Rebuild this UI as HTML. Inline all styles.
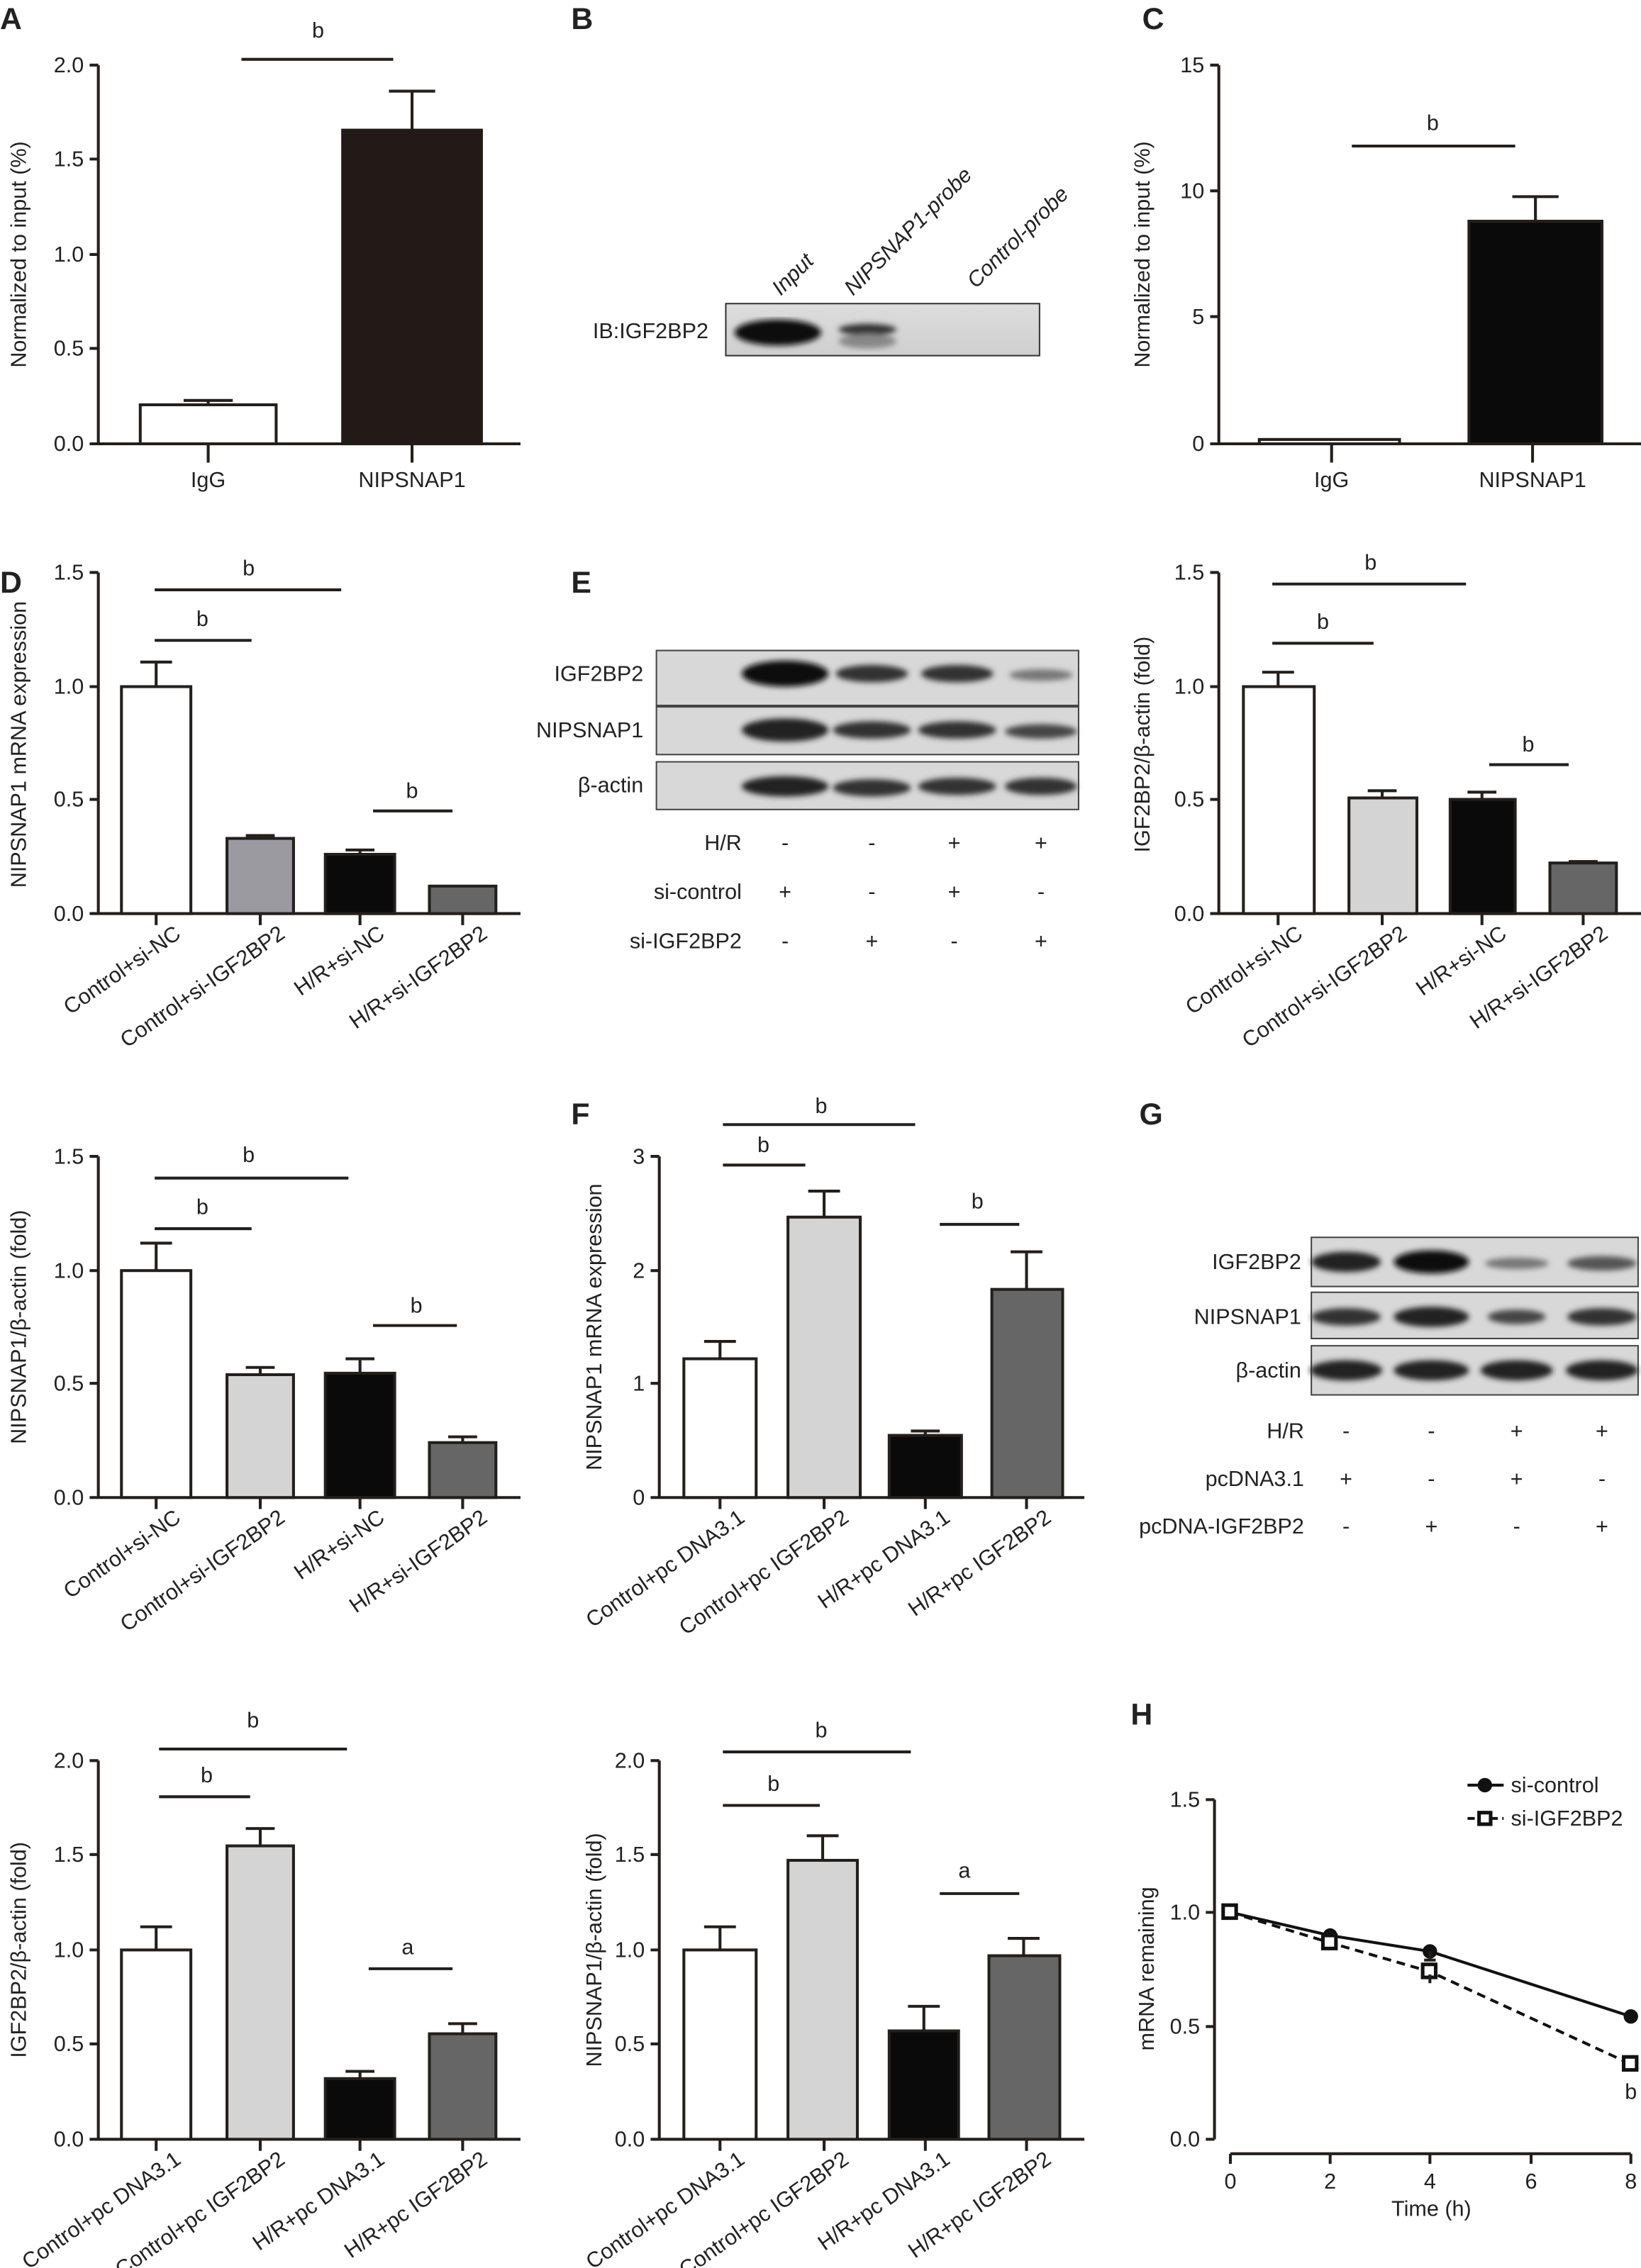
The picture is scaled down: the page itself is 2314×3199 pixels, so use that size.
<!DOCTYPE html>
<html><head><meta charset="utf-8"><style>
html,body{margin:0;padding:0;background:#fff}
svg{display:block}
text{font-family:"Liberation Sans Narrow","Liberation Sans",sans-serif;fill:#222}
.t{font-size:15px}
.yl{font-size:15px}
.L{font-family:"Liberation Sans",sans-serif;font-weight:bold;font-size:21px}
.ax{stroke:#231f1c;stroke-width:2;fill:none}
.w{fill:#fff;stroke:#231f1c;stroke-width:2}
.lg{fill:#d4d4d4;stroke:#231f1c;stroke-width:2}
.bk{fill:#0a0a0a;stroke:#231f1c;stroke-width:2}
.dg{fill:#666;stroke:#231f1c;stroke-width:2}
.mg{fill:#9a9aa0;stroke:#231f1c;stroke-width:2}
.br{fill:#231a17;stroke:#231a17;stroke-width:2}
</style></head><body>
<svg width="2314" height="3199" viewBox="0 0 1135 1569" xmlns="http://www.w3.org/2000/svg">
<defs>
<linearGradient id="bg" x1="0" y1="0" x2="0" y2="1"><stop offset="0" stop-color="#ddd"/><stop offset="1" stop-color="#cfcfcf"/></linearGradient>
<filter id="bl"><feGaussianBlur stdDeviation="2"/></filter>
</defs>

<!-- Panel A -->
<text class="L" x="0" y="20">A</text>
<path class="ax" d="M68 45V307H360M62 45H68M62 110H68M62 176H68M62 241H68M62 307H68M144 307V320M285 307V320"/>
<text class="t" x="58" y="50" text-anchor="end">2.0</text>
<text class="t" x="58" y="115" text-anchor="end">1.5</text>
<text class="t" x="58" y="181" text-anchor="end">1.0</text>
<text class="t" x="58" y="246" text-anchor="end">0.5</text>
<text class="t" x="58" y="312" text-anchor="end">0.0</text>
<rect class="w" x="97" y="280" width="94" height="27"/>
<path class="ax" d="M144 280V277M127 277H161"/>
<rect class="br" x="237" y="90" width="96" height="217"/>
<path class="ax" d="M285 90V63M269 63H301"/>
<path class="ax" d="M167 41H272" stroke-width="2.5"/>
<text class="t" x="220" y="26" text-anchor="middle">b</text>
<text class="t" x="144" y="337" text-anchor="middle">IgG</text>
<text class="t" x="285" y="337" text-anchor="middle">NIPSNAP1</text>
<text class="yl" transform="translate(18 176) rotate(-90)" text-anchor="middle" font-family="Liberation Sans">Normalized to input (%)</text>

<!-- Panel B -->
<text class="L" x="395" y="20">B</text>
<rect x="502" y="210" width="217" height="36" fill="url(#bg)" stroke="#333" stroke-width="1"/>
<g filter="url(#bl)"><ellipse cx="538" cy="230" rx="30" ry="9" fill="#111"/><ellipse cx="600" cy="228" rx="20" ry="4" fill="#333"/><ellipse cx="600" cy="236" rx="20" ry="5" fill="#888"/></g>
<text class="t" x="490" y="234" text-anchor="end">IB:IGF2BP2</text>
<text class="t" font-style="italic" transform="translate(540 205) rotate(-45)">Input</text>
<text class="t" font-style="italic" transform="translate(590 205) rotate(-45)">NIPSNAP1-probe</text>
<text class="t" font-style="italic" transform="translate(675 200) rotate(-45)">Control-probe</text>

<!-- Panel C -->
<text class="L" x="790" y="20">C</text>
<path class="ax" d="M843 45V307H1135M837 45H843M837 132H843M837 219H843M837 307H843M921 307V320M1060 307V320"/>
<text class="t" x="833" y="50" text-anchor="end">15</text>
<text class="t" x="833" y="137" text-anchor="end">10</text>
<text class="t" x="833" y="224" text-anchor="end">5</text>
<text class="t" x="833" y="312" text-anchor="end">0</text>
<rect class="w" x="871" y="304" width="97" height="3"/>
<rect class="bk" x="1016" y="153" width="92" height="154"/>
<path class="ax" d="M1062 153V136M1046 136H1078"/>
<path class="ax" d="M935 101H1048"/>
<text class="t" x="991" y="90" text-anchor="middle">b</text>
<text class="t" x="921" y="337" text-anchor="middle">IgG</text>
<text class="t" x="1060" y="337" text-anchor="middle">NIPSNAP1</text>
<text class="yl" transform="translate(795 176) rotate(-90)" text-anchor="middle" font-family="Liberation Sans">Normalized to input (%)</text>

<!-- Panel D -->
<text class="L" x="0" y="410">D</text>
<path class="ax" d="M68 396V632H360M62 396H68M62 475H68M62 553H68M62 632H68M108 632V640M180 632V640M249 632V640M320 632V640"/>
<text class="t" x="58" y="401" text-anchor="end">1.5</text>
<text class="t" x="58" y="480" text-anchor="end">1.0</text>
<text class="t" x="58" y="558" text-anchor="end">0.5</text>
<text class="t" x="58" y="637" text-anchor="end">0.0</text>
<rect class="w" x="84" y="475" width="48" height="157"/><path class="ax" d="M108 475V458M97 458H119"/>
<rect class="mg" x="157" y="580" width="46" height="52"/><path class="ax" d="M180 580V578M170 578H190"/>
<rect class="bk" x="225" y="591" width="48" height="41"/><path class="ax" d="M249 591V588M239 588H259"/>
<rect class="dg" x="297" y="613" width="46" height="19"/>
<path class="ax" d="M107 408H236M107 443H174M258 561H313"/>
<text class="t" x="172" y="398" text-anchor="middle">b</text>
<text class="t" x="140" y="433" text-anchor="middle">b</text>
<text class="t" x="285" y="552" text-anchor="middle">b</text>
<g class="t" text-anchor="end">
<text transform="translate(126 648) rotate(-35)">Control+si-NC</text>
<text transform="translate(198 648) rotate(-35)">Control+si-IGF2BP2</text>
<text transform="translate(267 648) rotate(-35)">H/R+si-NC</text>
<text transform="translate(338 648) rotate(-35)">H/R+si-IGF2BP2</text>
</g>
<text class="yl" transform="translate(18 515) rotate(-90)" text-anchor="middle" font-family="Liberation Sans">NIPSNAP1 mRNA expression</text>

<!-- Panel E blot -->
<text class="L" x="395" y="410">E</text>
<rect x="454" y="450" width="292" height="38" fill="#d8d8d8" stroke="#444"/>
<rect x="454" y="489" width="292" height="33" fill="#d8d8d8" stroke="#444"/>
<rect x="454" y="527" width="292" height="33" fill="#d8d8d8" stroke="#444"/>
<g filter="url(#bl)">
<ellipse cx="543" cy="466" rx="30" ry="9" fill="#111"/><ellipse cx="603" cy="466" rx="25" ry="6" fill="#333"/><ellipse cx="662" cy="466" rx="25" ry="6" fill="#333"/><ellipse cx="720" cy="467" rx="22" ry="4" fill="#777"/>
<ellipse cx="543" cy="505" rx="30" ry="8" fill="#222"/><ellipse cx="603" cy="505" rx="27" ry="6" fill="#333"/><ellipse cx="662" cy="505" rx="27" ry="6" fill="#333"/><ellipse cx="720" cy="506" rx="25" ry="5" fill="#444"/>
<ellipse cx="543" cy="544" rx="30" ry="7" fill="#222"/><ellipse cx="603" cy="545" rx="27" ry="6" fill="#333"/><ellipse cx="662" cy="544" rx="27" ry="6" fill="#333"/><ellipse cx="720" cy="544" rx="25" ry="6" fill="#333"/>
</g>
<g class="t" text-anchor="end">
<text x="445" y="471">IGF2BP2</text><text x="445" y="510">NIPSNAP1</text><text x="445" y="548">β-actin</text>
<text x="513" y="588">H/R</text><text x="513" y="622">si-control</text><text x="513" y="656">si-IGF2BP2</text>
</g>
<g class="t" text-anchor="middle">
<text x="543" y="588">-</text><text x="603" y="588">-</text><text x="660" y="588">+</text><text x="720" y="588">+</text>
<text x="543" y="622">+</text><text x="603" y="622">-</text><text x="660" y="622">+</text><text x="720" y="622">-</text>
<text x="543" y="656">-</text><text x="603" y="656">+</text><text x="660" y="656">-</text><text x="720" y="656">+</text>
</g>

<!-- Panel E chart -->
<path class="ax" d="M843 396V632H1135M837 396H843M837 475H843M837 553H843M837 632H843M884 632V640M956 632V640M1025 632V640M1095 632V640"/>
<text class="t" x="833" y="401" text-anchor="end">1.5</text>
<text class="t" x="833" y="480" text-anchor="end">1.0</text>
<text class="t" x="833" y="558" text-anchor="end">0.5</text>
<text class="t" x="833" y="637" text-anchor="end">0.0</text>
<rect class="w" x="860" y="475" width="49" height="157"/><path class="ax" d="M884 475V465M873 465H895"/>
<rect class="lg" x="933" y="552" width="47" height="80"/><path class="ax" d="M956 552V547M946 547H966"/>
<rect class="bk" x="1003" y="553" width="45" height="79"/><path class="ax" d="M1025 553V548M1015 548H1035"/>
<rect class="dg" x="1072" y="597" width="46" height="35"/><path class="ax" d="M1095 597V596M1085 596H1105"/>
<path class="ax" d="M880 404H1014M880 445H950M1030 529H1085"/>
<text class="t" x="948" y="394" text-anchor="middle">b</text>
<text class="t" x="915" y="435" text-anchor="middle">b</text>
<text class="t" x="1057" y="520" text-anchor="middle">b</text>
<g class="t" text-anchor="end">
<text transform="translate(902 648) rotate(-35)">Control+si-NC</text>
<text transform="translate(974 648) rotate(-35)">Control+si-IGF2BP2</text>
<text transform="translate(1043 648) rotate(-35)">H/R+si-NC</text>
<text transform="translate(1113 648) rotate(-35)">H/R+si-IGF2BP2</text>
</g>
<text class="yl" transform="translate(795 515) rotate(-90)" text-anchor="middle" font-family="Liberation Sans">IGF2BP2/β-actin (fold)</text>

<!-- Row 3 left -->
<path class="ax" d="M68 800V1036H360M62 800H68M62 879H68M62 957H68M62 1036H68M108 1036V1044M180 1036V1044M249 1036V1044M320 1036V1044"/>
<text class="t" x="58" y="805" text-anchor="end">1.5</text>
<text class="t" x="58" y="884" text-anchor="end">1.0</text>
<text class="t" x="58" y="962" text-anchor="end">0.5</text>
<text class="t" x="58" y="1041" text-anchor="end">0.0</text>
<rect class="w" x="84" y="879" width="48" height="157"/><path class="ax" d="M108 879V860M97 860H119"/>
<rect class="lg" x="157" y="951" width="46" height="85"/><path class="ax" d="M180 951V946M170 946H190"/>
<rect class="bk" x="225" y="950" width="48" height="86"/><path class="ax" d="M249 950V940M239 940H259"/>
<rect class="dg" x="297" y="998" width="46" height="38"/><path class="ax" d="M320 998V994M310 994H330"/>
<path class="ax" d="M107 815H241M107 850H174M258 917H316"/>
<text class="t" x="172" y="804" text-anchor="middle">b</text>
<text class="t" x="140" y="840" text-anchor="middle">b</text>
<text class="t" x="288" y="908" text-anchor="middle">b</text>
<g class="t" text-anchor="end">
<text transform="translate(126 1052) rotate(-35)">Control+si-NC</text>
<text transform="translate(198 1052) rotate(-35)">Control+si-IGF2BP2</text>
<text transform="translate(267 1052) rotate(-35)">H/R+si-NC</text>
<text transform="translate(338 1052) rotate(-35)">H/R+si-IGF2BP2</text>
</g>
<text class="yl" transform="translate(18 918) rotate(-90)" text-anchor="middle" font-family="Liberation Sans">NIPSNAP1/β-actin (fold)</text>

<!-- Panel F -->
<text class="L" x="395" y="778">F</text>
<path class="ax" d="M456 800V1036H750M450 800H456M450 879H456M450 957H456M450 1036H456M498 1036V1044M570 1036V1044M640 1036V1044M710 1036V1044"/>
<text class="t" x="446" y="805" text-anchor="end">3</text>
<text class="t" x="446" y="884" text-anchor="end">2</text>
<text class="t" x="446" y="962" text-anchor="end">1</text>
<text class="t" x="446" y="1041" text-anchor="end">0</text>
<rect class="w" x="473" y="940" width="50" height="96"/><path class="ax" d="M498 940V928M487 928H509"/>
<rect class="lg" x="545" y="842" width="50" height="194"/><path class="ax" d="M570 842V824M559 824H581"/>
<rect class="bk" x="615" y="993" width="50" height="43"/><path class="ax" d="M640 993V990M630 990H650"/>
<rect class="dg" x="686" y="892" width="49" height="144"/><path class="ax" d="M710 892V866M699 866H721"/>
<path class="ax" d="M500 778H633M500 806H557M650 847H705"/>
<text class="t" x="568" y="770" text-anchor="middle">b</text>
<text class="t" x="528" y="797" text-anchor="middle">b</text>
<text class="t" x="676" y="836" text-anchor="middle">b</text>
<g class="t" text-anchor="end">
<text transform="translate(516 1052) rotate(-35)">Control+pc DNA3.1</text>
<text transform="translate(588 1052) rotate(-35)">Control+pc IGF2BP2</text>
<text transform="translate(658 1052) rotate(-35)">H/R+pc DNA3.1</text>
<text transform="translate(728 1052) rotate(-35)">H/R+pc IGF2BP2</text>
</g>
<text class="yl" transform="translate(416 918) rotate(-90)" text-anchor="middle" font-family="Liberation Sans">NIPSNAP1 mRNA expression</text>

<!-- Panel G -->
<text class="L" x="788" y="778">G</text>
<rect x="907" y="856" width="226" height="34" fill="#d8d8d8" stroke="#444"/>
<rect x="907" y="894" width="226" height="32" fill="#d8d8d8" stroke="#444"/>
<rect x="907" y="931" width="226" height="34" fill="#d8d8d8" stroke="#444"/>
<g filter="url(#bl)">
<ellipse cx="931" cy="873" rx="24" ry="7" fill="#222"/><ellipse cx="990" cy="873" rx="26" ry="8" fill="#111"/><ellipse cx="1049" cy="874" rx="22" ry="4" fill="#777"/><ellipse cx="1108" cy="874" rx="24" ry="5" fill="#555"/>
<ellipse cx="931" cy="911" rx="24" ry="6" fill="#333"/><ellipse cx="990" cy="911" rx="26" ry="7" fill="#222"/><ellipse cx="1049" cy="911" rx="20" ry="5" fill="#444"/><ellipse cx="1108" cy="911" rx="24" ry="6" fill="#333"/>
<ellipse cx="931" cy="948" rx="25" ry="7" fill="#222"/><ellipse cx="990" cy="948" rx="26" ry="7" fill="#222"/><ellipse cx="1049" cy="948" rx="25" ry="7" fill="#222"/><ellipse cx="1108" cy="948" rx="25" ry="7" fill="#222"/>
</g>
<g class="t" text-anchor="end">
<text x="900" y="878">IGF2BP2</text><text x="900" y="916">NIPSNAP1</text><text x="900" y="953">β-actin</text>
<text x="902" y="995">H/R</text><text x="902" y="1028">pcDNA3.1</text><text x="902" y="1061">pcDNA-IGF2BP2</text>
</g>
<g class="t" text-anchor="middle">
<text x="931" y="995">-</text><text x="990" y="995">-</text><text x="1049" y="995">+</text><text x="1108" y="995">+</text>
<text x="931" y="1028">+</text><text x="990" y="1028">-</text><text x="1049" y="1028">+</text><text x="1108" y="1028">-</text>
<text x="931" y="1061">-</text><text x="990" y="1061">+</text><text x="1049" y="1061">-</text><text x="1108" y="1061">+</text>
</g>

<!-- Row 4 left -->
<path class="ax" d="M68 1218V1480H360M62 1218H68M62 1283H68M62 1349H68M62 1414H68M62 1480H68M108 1480V1488M180 1480V1488M249 1480V1488M320 1480V1488"/>
<text class="t" x="58" y="1223" text-anchor="end">2.0</text>
<text class="t" x="58" y="1288" text-anchor="end">1.5</text>
<text class="t" x="58" y="1354" text-anchor="end">1.0</text>
<text class="t" x="58" y="1419" text-anchor="end">0.5</text>
<text class="t" x="58" y="1485" text-anchor="end">0.0</text>
<rect class="w" x="84" y="1349" width="48" height="131"/><path class="ax" d="M108 1349V1333M97 1333H119"/>
<rect class="lg" x="157" y="1277" width="46" height="203"/><path class="ax" d="M180 1277V1265M170 1265H190"/>
<rect class="bk" x="225" y="1438" width="48" height="42"/><path class="ax" d="M249 1438V1433M239 1433H259"/>
<rect class="dg" x="297" y="1407" width="46" height="73"/><path class="ax" d="M320 1407V1400M310 1400H330"/>
<path class="ax" d="M110 1210H240M110 1243H173M255 1362H313"/>
<text class="t" x="175" y="1195" text-anchor="middle">b</text>
<text class="t" x="143" y="1233" text-anchor="middle">b</text>
<text class="t" x="282" y="1352" text-anchor="middle">a</text>
<g class="t" text-anchor="end">
<text transform="translate(126 1496) rotate(-35)">Control+pc DNA3.1</text>
<text transform="translate(198 1496) rotate(-35)">Control+pc IGF2BP2</text>
<text transform="translate(267 1496) rotate(-35)">H/R+pc DNA3.1</text>
<text transform="translate(338 1496) rotate(-35)">H/R+pc IGF2BP2</text>
</g>
<text class="yl" transform="translate(18 1349) rotate(-90)" text-anchor="middle" font-family="Liberation Sans">IGF2BP2/β-actin (fold)</text>

<!-- Row 4 middle -->
<path class="ax" d="M456 1218V1480H750M450 1218H456M450 1283H456M450 1349H456M450 1414H456M450 1480H456M498 1480V1488M570 1480V1488M640 1480V1488M710 1480V1488"/>
<text class="t" x="446" y="1223" text-anchor="end">2.0</text>
<text class="t" x="446" y="1288" text-anchor="end">1.5</text>
<text class="t" x="446" y="1354" text-anchor="end">1.0</text>
<text class="t" x="446" y="1419" text-anchor="end">0.5</text>
<text class="t" x="446" y="1485" text-anchor="end">0.0</text>
<rect class="w" x="473" y="1349" width="50" height="131"/><path class="ax" d="M498 1349V1333M487 1333H509"/>
<rect class="lg" x="545" y="1287" width="48" height="193"/><path class="ax" d="M569 1287V1270M558 1270H580"/>
<rect class="bk" x="615" y="1405" width="48" height="75"/><path class="ax" d="M639 1405V1388M628 1388H650"/>
<rect class="dg" x="684" y="1353" width="49" height="127"/><path class="ax" d="M708 1353V1341M697 1341H719"/>
<path class="ax" d="M500 1212H630M500 1249H567M650 1310H705"/>
<text class="t" x="568" y="1202" text-anchor="middle">b</text>
<text class="t" x="535" y="1239" text-anchor="middle">b</text>
<text class="t" x="667" y="1299" text-anchor="middle">a</text>
<g class="t" text-anchor="end">
<text transform="translate(516 1496) rotate(-35)">Control+pc DNA3.1</text>
<text transform="translate(588 1496) rotate(-35)">Control+pc IGF2BP2</text>
<text transform="translate(658 1496) rotate(-35)">H/R+pc DNA3.1</text>
<text transform="translate(728 1496) rotate(-35)">H/R+pc IGF2BP2</text>
</g>
<text class="yl" transform="translate(416 1349) rotate(-90)" text-anchor="middle" font-family="Liberation Sans">NIPSNAP1/β-actin (fold)</text>

<!-- Panel H -->
<text class="L" x="782" y="1193">H</text>
<path class="ax" d="M840 1245V1480M834 1245H840M834 1323H840M834 1402H840M834 1480H840M851 1490H1128M851 1490V1497M920 1490V1497M989 1490V1497M1059 1490V1497M1128 1490V1497"/>
<text class="t" x="830" y="1250" text-anchor="end">1.5</text>
<text class="t" x="830" y="1328" text-anchor="end">1.0</text>
<text class="t" x="830" y="1407" text-anchor="end">0.5</text>
<text class="t" x="830" y="1485" text-anchor="end">0.0</text>
<g class="t" text-anchor="middle"><text x="851" y="1514">0</text><text x="920" y="1514">2</text><text x="989" y="1514">4</text><text x="1059" y="1514">6</text><text x="1128" y="1514">8</text></g>
<text class="t" x="990" y="1533" text-anchor="middle" font-family="Liberation Sans">Time (h)</text>
<text class="yl" transform="translate(798 1362) rotate(-90)" text-anchor="middle" font-family="Liberation Sans">mRNA remaining</text>
<polyline points="851,1323 920,1339 989,1350 1128,1395" fill="none" stroke="#111" stroke-width="2"/>
<polyline points="851,1323 920,1344 989,1364 1128,1428" fill="none" stroke="#111" stroke-width="2" stroke-dasharray="6,4"/>
<g fill="#111"><circle cx="851" cy="1323" r="5"/><circle cx="920" cy="1339" r="5"/><circle cx="989" cy="1350" r="5"/><circle cx="1128" cy="1395" r="5"/></g>
<g fill="#fff" stroke="#111" stroke-width="2.5"><rect x="846" y="1318" width="9" height="9"/><rect x="915" y="1339" width="9" height="9"/><rect x="984" y="1359" width="9" height="9"/><rect x="1123" y="1423" width="9" height="9"/></g>
<path class="ax" d="M989 1350V1356M985 1356H993M989 1372V1366"/>
<text class="t" x="1128" y="1452" text-anchor="middle">b</text>
<line x1="1015" y1="1235" x2="1040" y2="1235" stroke="#111" stroke-width="2"/><circle cx="1027" cy="1235" r="5" fill="#111"/>
<line x1="1015" y1="1258" x2="1040" y2="1258" stroke="#111" stroke-width="2" stroke-dasharray="5,3"/><rect x="1023" y="1254" width="8" height="8" fill="#fff" stroke="#111" stroke-width="2.5"/>
<text class="t" x="1045" y="1240">si-control</text>
<text class="t" x="1045" y="1263">si-IGF2BP2</text>
</svg>
</body></html>
